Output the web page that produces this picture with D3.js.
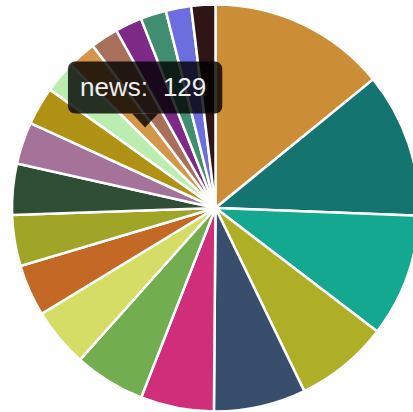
<!DOCTYPE html>
<html>
<head>
<meta charset="utf-8">
<script src="https://cdn.jsdelivr.net/npm/d3@7"></script>
<style>
  html, body { margin: 0; padding: 0; background: #fff; overflow: hidden; }
  svg { display: block; }
</style>
</head>
<body>
<svg id="chart" width="413" height="412"></svg>
<script>
// Category names, in drawing order (largest first, clockwise from 12 o'clock)
const categories = [
  "topic 1", "topic 2", "topic 3", "topic 4", "topic 5",
  "topic 6", "topic 7", "topic 8", "topic 9", "topic 10",
  "topic 11", "topic 12", "topic 13", "topic 14", "news",
  "topic 16", "topic 17", "topic 18", "topic 19", "topic 20"
];

// Count per category
const counts = [
  797, 649, 552, 420, 413,
  329, 319, 266, 231, 229,
  229, 189, 171, 143, 129,
  124, 121, 115, 114, 108
];

// Fill colour per slice
const sliceColors = [
  "#cb8e36", "#14746f", "#14a890", "#aeae27", "#394d6d",
  "#d02e7b", "#72ad50", "#d6dd66", "#c46925", "#a0a427",
  "#2f4e35", "#a5729a", "#af9213", "#bbedb0", "#d4974a",
  "#a86f5b", "#7c2a86", "#418d70", "#6c6ee0", "#301516"
];

// Category whose tooltip is shown
const activeCategory = "news";

const width = 413, height = 412;
const cx = 215.5, cy = 208, radius = 203.5;

const svg = d3.select("#chart");
const g = svg.append("g").attr("transform", `translate(${cx},${cy})`);

const rows = categories.map((c, i) => ({ category: c, count: counts[i] }));

const pie = d3.pie().sort(null).value(d => d.count);
const arcs = pie(rows);

const color = d3.scaleOrdinal().domain(categories).range(sliceColors);
const arc = d3.arc().innerRadius(0).outerRadius(radius);

g.selectAll("path.slice")
  .data(arcs)
  .join("path")
  .attr("class", "slice")
  .attr("d", arc)
  .attr("fill", d => color(d.data.category))
  .attr("stroke", "#fff")
  .attr("stroke-width", 2.5);

// Tooltip pointing into the active slice
const active = arcs.find(d => d.data.category === activeCategory);
const anchorArc = d3.arc().innerRadius(0).outerRadius(radius * 1.05);
const [ax, ay] = anchorArc.centroid(active);

const arrowH = 14, arrowHalf = 13;
const padX = 14, boxH = 52, baselineOff = 34;

const tip = svg.append("g")
  .attr("class", "tip")
  .attr("transform", `translate(${cx + ax},${cy + ay})`);

const bg = tip.append("g").attr("fill", "rgba(0,0,0,0.8)");

const label = tip.append("text")
  .attr("font-family", "'Liberation Sans', Arial, sans-serif")
  .attr("font-size", 26)
  .attr("fill", "#eeeeee")
  .attr("y", -arrowH - boxH + baselineOff);

const gap = 15;
label.append("tspan").attr("class", "key").text(active.data.category + ":");
label.append("tspan").attr("class", "val").attr("dx", gap).text(active.data.count);

const textW = label.node().getComputedTextLength() + gap;
const boxW = textW + padX * 2;
const boxX = -boxW / 2;
label.select("tspan.key").attr("x", boxX + padX - 2);

bg.append("rect")
  .attr("x", boxX)
  .attr("y", -arrowH - boxH)
  .attr("width", boxW)
  .attr("height", boxH)
  .attr("rx", 7);

bg.append("path")
  .attr("d", `M${-arrowHalf},${-arrowH}L${arrowHalf},${-arrowH}L0,0Z`);
</script>
</body>
</html>
